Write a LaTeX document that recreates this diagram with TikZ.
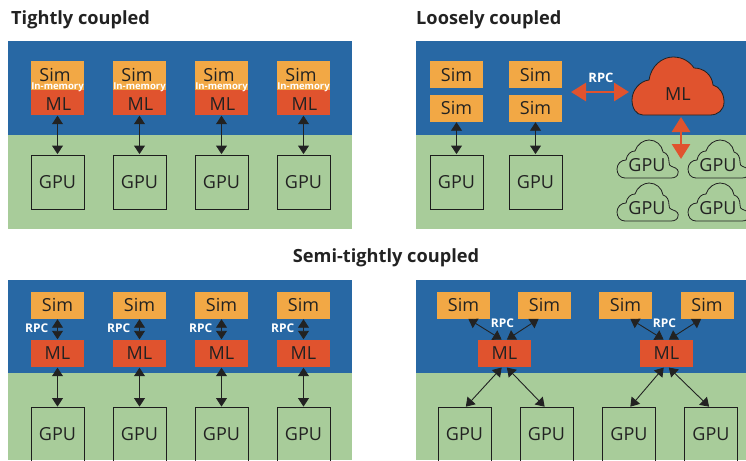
\documentclass[tikz,border=0pt]{standalone}
\usepackage{fontspec}
\setmainfont{Open Sans}
\usetikzlibrary{arrows.meta,calc}
\definecolor{panelblue}{HTML}{2868A4}
\definecolor{panelgreen}{HTML}{A8CC9A}
\definecolor{simorange}{HTML}{F2A845}
\definecolor{mlred}{HTML}{E0532E}
\definecolor{ink}{HTML}{222222}
\newcommand{\gputxt}{\raisebox{-3pt}{GPU}}
\tikzset{
  x=1pt,y=-1pt,
  blk/.style={minimum width=53pt,minimum height=27pt,inner sep=0pt,font=\fontsize{18}{20}\selectfont,text=ink},
  simbox/.style={blk,fill=simorange},
  mlbox/.style={blk,fill=mlred},
  gpubox/.style={blk,minimum width=53pt,minimum height=54pt,draw=ink!85!black,line width=0.9pt},
  blab/.style={inner sep=0pt,font=\bfseries\fontsize{12}{13}\selectfont,text=white},
  title/.style={inner sep=0pt,font=\bfseries\fontsize{18.2}{20}\selectfont,text=ink},
  dbl/.style={{Triangle[length=8.5pt,width=11pt]}-{Triangle[length=8.5pt,width=11pt]},line width=0.9pt,draw=ink,shorten <=0.5pt,shorten >=0.5pt},
  rpcarrow/.style={{Triangle[length=15pt,width=18pt]}-{Triangle[length=15pt,width=18pt]},line width=2.8pt,draw=mlred},
  cloudline/.style={draw=ink,line width=0.8pt},
  cloudlab/.style={inner sep=0pt,font=\fontsize{18}{20}\selectfont,text=ink}
}
\newcommand{\smallcloud}[3]{%
  \draw[cloudline,shift={(#1,#2)}]
    (8,38) .. controls (3,38) and (0,34) .. (0,29)
    .. controls (0,24) and (4,20) .. (9,20)
    .. controls (10,14) and (14,11) .. (18,11)
    .. controls (20,4) and (27,0) .. (32,0)
    .. controls (39,0) and (45,5) .. (46,12)
    .. controls (50,13) and (52,17) .. (52,22)
    .. controls (51,24) and (53,26) .. (56,27)
    .. controls (60,28) and (62,31) .. (61,33)
    .. controls (61,36) and (58,38) .. (54,38) -- cycle;
  \node[cloudlab] (#3) at (#1+30,#2+25) {\gputxt};}
\begin{document}
\begin{tikzpicture}
\clip (0,0) rectangle (746,460);
% panels
\fill[panelblue] (8,41) rectangle (352,135);
\fill[panelgreen] (8,135) rectangle (352,229);
\fill[panelblue] (416,41) rectangle (746,135);
\fill[panelgreen] (416,135) rectangle (746,229);
\fill[panelblue] (8,280) rectangle (352,373);
\fill[panelgreen] (8,373) rectangle (352,460);
\fill[panelblue] (416,280) rectangle (746,373);
\fill[panelgreen] (416,373) rectangle (746,460);
% titles
\node[title,anchor=base west] (t1) at (11,25) {Tightly coupled};
\node[title,anchor=base west] (t2) at (416,25) {Loosely coupled};
\node[title,anchor=base] (t3) at (386,262) {Semi-tightly coupled};
% tightly coupled
\foreach \i/\x in {1/57.5,2/139.5,3/221.5,4/303.5}{
  \node[simbox,minimum height=29pt] (as\i) at (\x,75.5) {};
  \node[cloudlab] (ast\i) at (\x-2.5,75) {Sim};
  \node[mlbox,minimum height=25pt] (am\i) at (\x,102.5) {};
  \node[cloudlab] (amt\i) at (\x+1,104) {ML};
  \node[blab,font=\bfseries\fontsize{9.5}{10}\selectfont] (al\i) at (\x,87) {In-memory};
  \node[gpubox] (ag\i) at (\x,182) {\gputxt};
  \draw[dbl] (am\i.south) -- (ag\i.north);
}
% loosely coupled
\foreach \i/\x in {1/456.5,2/535.5}{
  \node[simbox] (bs\i) at (\x,74.5) {Sim};
  \node[simbox] (bt\i) at (\x,108) {Sim};
  \node[gpubox] (bg\i) at (\x,182) {\gputxt};
  \draw[dbl] (bt\i.south) -- (bg\i.north);
}
\draw[fill=mlred,draw=ink,line width=0.8pt]
  (643,115) .. controls (636,115) and (632,108) .. (632,100)
  .. controls (632,90) and (640,81) .. (649,80)
  .. controls (651,66) and (662,57) .. (673,57)
  .. controls (683,57) and (690,62) .. (694,68)
  .. controls (704,68) and (712,75) .. (713,85)
  .. controls (720,87) and (724,94) .. (724,102)
  .. controls (724,110) and (718,115) .. (710,115) -- cycle;
\node[cloudlab,minimum width=92pt,minimum height=59pt] (bml) at (678,94) {ML};
\coordinate (rpcl) at (571,92);
\coordinate (rpcr) at (629,92);
\coordinate (vt) at (681,117);
\coordinate (vb) at (681,159);
\smallcloud{617}{140}{c1}
\smallcloud{688}{140}{c2}
\smallcloud{617}{183}{c3}
\smallcloud{688}{183}{c4}
\draw[rpcarrow] (rpcl) -- (rpcr);
\draw[rpcarrow] (vt) -- (vb);
\node[blab,font=\bfseries\fontsize{13}{14}\selectfont] (brpc) at (601,78) {RPC};
% semi-tight left
\foreach \i/\x in {1/57.5,2/139.5,3/221.5,4/303.5}{
  \node[simbox] (cs\i) at (\x,305) {Sim};
  \node[mlbox] (cm\i) at (\x,353.5) {ML};
  \node[gpubox] (cg\i) at (\x,434.5) {\gputxt};
  \draw[dbl] (cs\i.south) -- (cm\i.north);
  \draw[dbl] (cm\i.south) -- (cg\i.north);
  \node[blab,anchor=east] (cl\i) at (\x-9,328.5) {RPC};
}
% semi-tight right
\foreach \i/\xa/\xb/\xm/\ga/\gb in {1/463.5/544.5/504.5/464.5/546.5,2/625.5/707/666.5/629/711}{
  \node[simbox] (ds\i) at (\xa,305) {Sim};
  \node[simbox] (dt\i) at (\xb,305) {Sim};
  \node[mlbox] (dm\i) at (\xm,353.5) {ML};
  \node[gpubox] (dg\i) at (\ga,434.5) {\gputxt};
  \node[gpubox] (dh\i) at (\gb,434.5) {\gputxt};
  \node[blab] (dl\i) at (\xm-2,323) {RPC};
  \draw[dbl] ([xshift=-2.5pt]dm\i.north) -- ([xshift=4.5pt]ds\i.south);
  \draw[dbl] ([xshift=2pt]dm\i.north) -- ([xshift=-5.5pt]dt\i.south);
  \draw[dbl] ([xshift=-2.5pt]dm\i.south) -- ([xshift=1pt]dg\i.north);
  \draw[dbl] ([xshift=2pt]dm\i.south) -- ([xshift=-1.5pt]dh\i.north);
}
\end{tikzpicture}
\end{document}
